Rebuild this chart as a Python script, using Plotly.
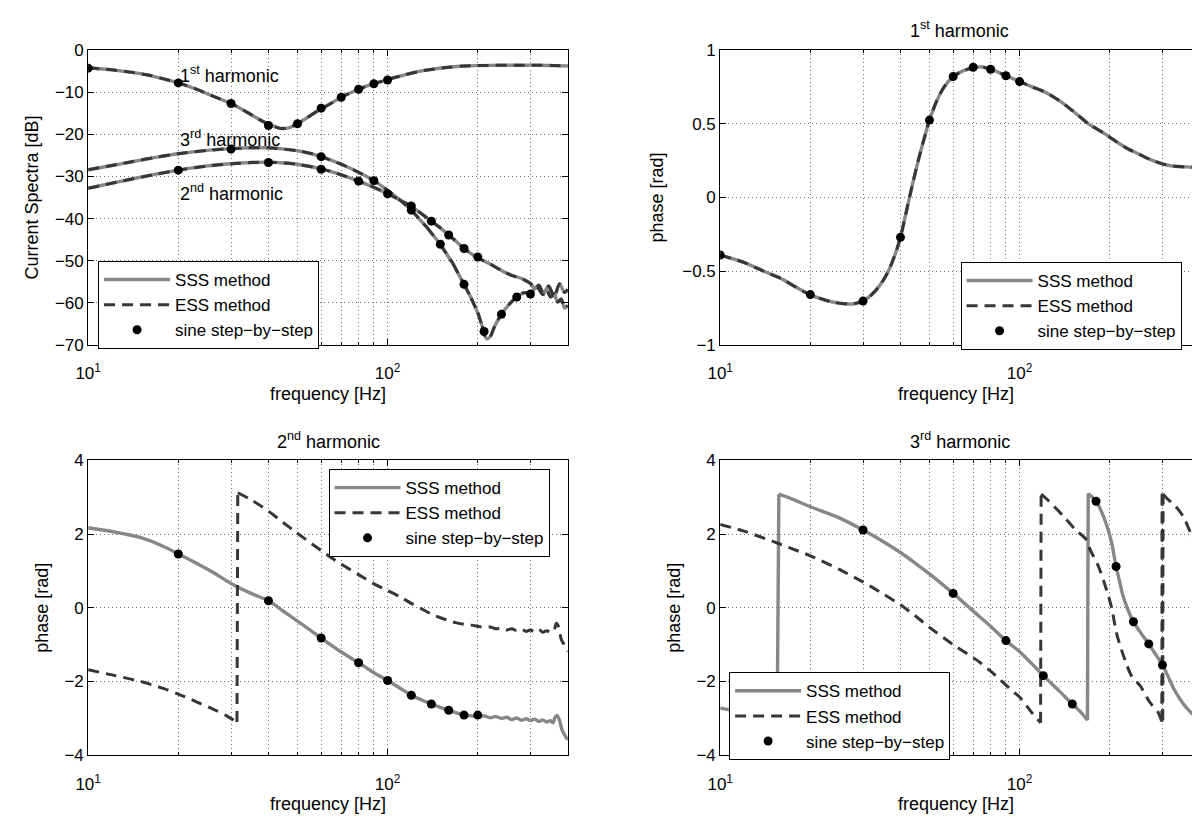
import plotly.graph_objects as go
import math

# ---------------- data ----------------
# sine step-by-step excitation frequencies for each harmonic
dots_f1 = [10, 20, 30, 40, 50, 60, 70, 80, 90, 100]
dots_f2 = [20, 40, 60, 80, 100, 120, 140, 160, 180, 200]
dots_f3 = [30, 60, 90, 120, 150, 180, 210, 240, 270, 300]

# magnitude [dB]
mag_f1 = [10, 12, 14, 16, 18, 20, 23, 26, 30, 34, 38, 41, 44, 47, 50, 54, 58, 62, 66, 70, 75, 80, 90,
          100, 110, 125, 140, 160, 180, 200, 240, 280, 320, 360, 400]
mag_1 = [-4.2, -4.7, -5.3, -6.0, -6.9, -7.8, -9.3, -10.9, -12.7, -14.8, -16.8, -17.9, -18.6, -18.4, -17.5,
         -16.0, -14.6, -13.4, -12.3, -11.2, -10.2, -9.3, -8.0, -7.0, -6.2, -5.2, -4.6, -4.1, -3.8, -3.7,
         -3.6, -3.6, -3.6, -3.7, -3.8]
mag_f2 = [10, 12, 14, 17, 20, 25, 30, 35, 40, 45, 50, 60, 70, 80, 90, 100, 110, 120, 130, 140, 150, 160,
          170, 180, 190, 200, 220, 240, 260, 280, 300, 310, 320, 330, 340, 350, 360, 370, 380, 390, 400]
mag_2 = [-32.8, -31.6, -30.6, -29.4, -28.5, -27.5, -27.0, -26.7, -26.6, -26.8, -27.1, -28.2, -29.6, -31.1,
         -32.6, -34.1, -35.6, -37.1, -38.9, -40.6, -42.2, -43.9, -45.5, -47.1, -48.3, -49.3, -50.8, -52.3,
         -53.5, -54.2, -55.4, -56.6, -55.8, -57.5, -56.9, -58.6, -57.9, -59.8, -59.1, -61.2, -60.6]
mag_f3 = [10, 12, 14, 17, 20, 25, 30, 35, 40, 45, 50, 55, 60, 70, 80, 90, 100, 110, 120, 135, 150, 165,
          180, 190, 200, 207, 214, 220, 228, 240, 255, 270, 285, 300, 315, 330, 345, 360, 375, 390, 400]
mag_3 = [-28.4, -27.4, -26.5, -25.4, -24.6, -23.8, -23.4, -23.2, -23.2, -23.5, -23.9, -24.5, -25.3, -27.1,
         -29.0, -31.0, -33.3, -35.6, -38.0, -42.0, -46.1, -50.6, -55.6, -58.8, -62.3, -65.5, -68.5, -68.0,
         -65.5, -62.7, -60.3, -58.6, -57.6, -57.6, -56.2, -58.0, -56.0, -58.5, -55.5, -57.5, -56.8]
dots_mag1 = [-4.3, -7.8, -12.7, -17.9, -17.5, -13.8, -11.2, -9.3, -8.0, -7.1]
dots_mag2 = [-28.5, -26.7, -28.3, -31.1, -34.1, -37.0, -40.6, -43.9, -47.1, -49.1]
dots_mag3 = [-23.5, -25.3, -31.0, -38.0, -46.1, -55.6, -66.8, -62.7, -58.6, -57.9]

# phase of 1st harmonic [rad] (SSS and ESS coincide)
ph1_f = [10, 12, 14, 16, 18, 20, 22, 24, 26, 28, 30, 32, 34, 36, 38, 40, 42, 44, 46, 48, 50, 53, 56, 60,
         65, 70, 75, 80, 90, 100, 110, 120, 135, 150, 170, 190, 210, 230, 250, 275, 300, 320, 340, 377, 400]
ph1 = [-0.39, -0.44, -0.50, -0.55, -0.61, -0.66, -0.69, -0.71, -0.72, -0.72, -0.70, -0.66, -0.60, -0.52,
       -0.41, -0.27, -0.08, 0.10, 0.26, 0.40, 0.525, 0.66, 0.75, 0.82, 0.86, 0.88, 0.885, 0.87, 0.826, 0.786,
       0.75, 0.72, 0.66, 0.59, 0.50, 0.44, 0.38, 0.33, 0.295, 0.255, 0.228, 0.215, 0.21, 0.205, 0.20]
dots_ph1 = [-0.39, -0.658, -0.702, -0.27, 0.525, 0.82, 0.883, 0.87, 0.826, 0.786]

# phase of 2nd harmonic [rad]
ph2_sss_f = [10, 12, 15, 18, 20, 23, 26, 30, 35, 40, 45, 50, 55, 60, 70, 80, 90, 100, 110, 120, 130, 140,
             150, 160, 170, 180, 190, 200, 210, 220, 230, 240, 250, 260, 270, 280, 290, 300, 310, 320, 330,
             340, 350, 357, 362, 368, 375, 382, 390, 400]
ph2_sss = [2.17, 2.07, 1.90, 1.65, 1.46, 1.21, 0.97, 0.66, 0.39, 0.19, -0.10, -0.36, -0.60, -0.82, -1.20,
           -1.49, -1.76, -1.97, -2.18, -2.37, -2.50, -2.61, -2.70, -2.78, -2.85, -2.91, -2.93, -2.95, -2.93,
           -2.98, -2.95, -3.00, -2.97, -3.03, -2.99, -3.05, -3.01, -3.06, -3.02, -3.08, -3.04, -3.10, -3.06,
           -3.12, -2.98, -2.92, -3.05, -3.30, -3.45, -3.58]
ph2_ess_f = [10, 12, 15, 18, 20, 23, 26, 29, 31.4, 31.6, 35, 40, 45, 50, 60, 70, 80, 90, 100, 110, 120,
             130, 140, 150, 160, 170, 180, 190, 200, 210, 220, 230, 240, 250, 260, 270, 280, 290, 300, 310,
             320, 330, 340, 350, 360, 366, 372, 380, 390, 400]
ph2_ess = [-1.68, -1.82, -2.00, -2.20, -2.34, -2.55, -2.74, -2.93, -3.10, 3.12, 2.93, 2.62, 2.30, 2.02,
           1.55, 1.18, 0.90, 0.65, 0.47, 0.30, 0.12, -0.03, -0.17, -0.27, -0.35, -0.41, -0.45, -0.47, -0.50,
           -0.53, -0.52, -0.57, -0.55, -0.60, -0.57, -0.62, -0.58, -0.64, -0.60, -0.65, -0.59, -0.66, -0.62,
           -0.67, -0.60, -0.42, -0.50, -0.85, -1.02, -1.18]
dots_ph2 = [1.46, 0.19, -0.82, -1.49, -1.97, -2.37, -2.61, -2.78, -2.91, -2.91]

# phase of 3rd harmonic [rad]
ph3_sss_f = [10, 12, 14, 15.5, 15.7, 17, 20, 25, 30, 35, 40, 45, 50, 60, 70, 80, 90, 100, 110, 120, 135,
             150, 160, 168.5, 169.5, 175, 180, 185, 191, 197, 203, 210, 216, 221, 230, 240, 255, 270, 285,
             300, 315, 328, 345, 360, 377, 400]
ph3_sss = [-2.72, -2.85, -2.98, -3.08, 3.08, 2.98, 2.74, 2.44, 2.11, 1.80, 1.50, 1.20, 0.92, 0.39, -0.09,
           -0.50, -0.89, -1.19, -1.52, -1.84, -2.24, -2.61, -2.83, -3.05, 3.10, 3.00, 2.89, 2.72, 2.46, 2.15,
           1.76, 1.12, 0.70, 0.35, -0.05, -0.38, -0.70, -0.98, -1.27, -1.55, -1.90, -2.21, -2.50, -2.70,
           -2.87, -3.00]
ph3_ess_f = [10, 12, 15, 17, 20, 25, 30, 35, 40, 45, 50, 60, 72, 80, 96, 100, 110, 117.5, 118, 125, 141,
             154, 167, 172, 183, 193, 203, 211, 225, 237, 253, 272, 290, 298.5, 299.5, 300.5, 301.5, 312,
             326, 340, 353, 365, 377, 400]
ph3_ess = [2.26, 2.08, 1.80, 1.63, 1.41, 1.04, 0.70, 0.38, 0.08, -0.23, -0.53, -1.00, -1.42, -1.72, -2.30,
           -2.42, -2.85, -3.12, 3.08, 2.90, 2.46, 2.11, 1.85, 1.58, 1.14, 0.61, 0.0, -0.71, -1.42, -1.86,
           -2.12, -2.56, -2.83, -3.09, 3.10, -3.05, 3.08, 2.95, 2.82, 2.65, 2.46, 2.20, 1.94, 1.60]
dots_ph3 = [2.11, 0.39, -0.89, -1.84, -2.61, 2.89, 1.12, -0.38, -0.98, -1.55]

x_major = [10, 100]
x_major_text = ["10<sup>1</sup>", "10<sup>2</sup>"]
x_minor = [20, 30, 40, 50, 60, 70, 80, 90, 200, 300]

# ---------------- styling ----------------
W, H = 1192, 820
FONT = "Liberation Sans, Arial, Helvetica, sans-serif"
FS_TICK = 17
FS = 18
FS_LEG = 17
SSS_COLOR = "#878787"
ESS_COLOR = "#363636"
GRID = "rgba(0,0,0,0.55)"
GRID_DASH = "1px,3px"


def px_x(p):
    return p / W


def px_y(p):
    return 1 - p / H


dom_left = [px_x(76), px_x(561)]
dom_right = [px_x(715), 1.0]
dom_top = [px_y(344), px_y(42)]
dom_bot = [px_y(764), px_y(462)]
rng_left = [1, math.log10(400)]
rng_right = [1, 1 + (1192 - 715) / 302.7]


def split_wraps(f, v):
    """Break a phase curve at its +-pi wraps so each smooth piece is drawn on its own,
    with the wrap itself drawn as a straight connector."""
    xs, ys = [], []
    for i in range(len(f)):
        if i > 0 and abs(v[i] - v[i - 1]) > 3:
            xs += [None, f[i - 1], f[i], None]
            ys += [None, v[i - 1], v[i], None]
        xs.append(f[i])
        ys.append(v[i])
    return xs, ys


fig = go.Figure()


def sss(f, v, ax, leg, show):
    x, y = split_wraps(f, v)
    fig.add_trace(go.Scatter(x=x, y=y, mode="lines", name="SSS method", connectgaps=False,
                             line=dict(color=SSS_COLOR, width=3.4, shape="spline", smoothing=0.8),
                             xaxis=ax[0], yaxis=ax[1], legend=leg, showlegend=show,
                             legendgroup=leg + "sss"))


def ess(f, v, ax, leg, show):
    x, y = split_wraps(f, v)
    fig.add_trace(go.Scatter(x=x, y=y, mode="lines", name="ESS method", connectgaps=False,
                             line=dict(color=ESS_COLOR, width=3, dash="11px,7px", shape="spline",
                                       smoothing=0.8),
                             xaxis=ax[0], yaxis=ax[1], legend=leg, showlegend=show,
                             legendgroup=leg + "ess"))


def dots(f, v, ax, leg, show):
    fig.add_trace(go.Scatter(x=f, y=v, mode="markers", name="sine step\u2212by\u2212step",
                             marker=dict(color="black", size=9),
                             xaxis=ax[0], yaxis=ax[1], legend=leg, showlegend=show,
                             legendgroup=leg + "dots"))


A1, A2, A3, A4 = ("x", "y"), ("x2", "y2"), ("x3", "y3"), ("x4", "y4")

# top-left: magnitudes
sss(mag_f1, mag_1, A1, "legend", True)
sss(mag_f3, mag_3, A1, "legend", False)
sss(mag_f2, mag_2, A1, "legend", False)
ess(mag_f1, mag_1, A1, "legend", True)
ess(mag_f3, mag_3, A1, "legend", False)
ess(mag_f2, mag_2, A1, "legend", False)
dots(dots_f1, dots_mag1, A1, "legend", True)
dots(dots_f3, dots_mag3, A1, "legend", False)
dots(dots_f2, dots_mag2, A1, "legend", False)

# top-right: phase 1st harmonic
sss(ph1_f, ph1, A2, "legend2", True)
ess(ph1_f, ph1, A2, "legend2", True)
dots(dots_f1, dots_ph1, A2, "legend2", True)

# bottom-left: phase 2nd harmonic
sss(ph2_sss_f, ph2_sss, A3, "legend3", True)
ess(ph2_ess_f, ph2_ess, A3, "legend3", True)
dots(dots_f2, dots_ph2, A3, "legend3", True)

# bottom-right: phase 3rd harmonic
sss(ph3_sss_f, ph3_sss, A4, "legend4", True)
ess(ph3_ess_f, ph3_ess, A4, "legend4", True)
dots(dots_f3, dots_ph3, A4, "legend4", True)


def xaxis(domain, rng, anchor):
    return dict(type="log", domain=domain, range=rng, anchor=anchor,
                tickvals=x_major, ticktext=x_major_text, ticks="inside", ticklen=6,
                tickcolor="black", tickwidth=1, showline=True, linecolor="black", linewidth=1,
                mirror="ticks", showgrid=True, gridcolor=GRID, griddash=GRID_DASH, gridwidth=1,
                zeroline=False, tickfont=dict(size=FS_TICK, color="black"), ticklabelstandoff=13,
                minor=dict(tickvals=x_minor, ticks="inside", ticklen=3, tickcolor="black",
                           showgrid=True, gridcolor=GRID, griddash=GRID_DASH, gridwidth=1),
                title=dict(text="frequency [Hz]", font=dict(size=FS, color="black"), standoff=4))


def yaxis(domain, rng, dtick, anchor, title, mirror, standoff):
    return dict(domain=domain, range=rng, dtick=dtick, anchor=anchor, ticks="inside", ticklen=6,
                tickcolor="black", showline=True, linecolor="black", linewidth=1, mirror=mirror,
                showgrid=True, gridcolor=GRID, griddash=GRID_DASH, gridwidth=1, zeroline=False,
                tickfont=dict(size=FS_TICK, color="black"),
                title=dict(text=title, font=dict(size=FS, color="black"), standoff=standoff))


def legend(x_px, y_px):
    return dict(x=px_x(x_px), y=px_y(y_px), xanchor="left", yanchor="top", xref="paper", yref="paper",
                bgcolor="white", bordercolor="black", borderwidth=1, tracegroupgap=0,
                font=dict(size=FS_LEG, color="black", family=FONT), itemwidth=66,
                traceorder="normal")


fig.update_layout(
    width=W, height=H, margin=dict(l=0, r=0, t=0, b=0),
    paper_bgcolor="white", plot_bgcolor="white",
    font=dict(family=FONT, size=FS, color="black"),
    xaxis=xaxis(dom_left, rng_left, "y"),
    yaxis=yaxis(dom_top, [-70, 0], 10, "x", "Current Spectra [dB]", "ticks", 11),
    xaxis2=xaxis(dom_right, rng_right, "y2"),
    yaxis2=yaxis(dom_top, [-1, 1], 0.5, "x2", "phase [rad]", False, 13),
    xaxis3=xaxis(dom_left, rng_left, "y3"),
    yaxis3=yaxis(dom_bot, [-4, 4], 2, "x3", "phase [rad]", "ticks", 11),
    xaxis4=xaxis(dom_right, rng_right, "y4"),
    yaxis4=yaxis(dom_bot, [-4, 4], 2, "x4", "phase [rad]", False, 11),
    legend=legend(86, 258),
    legend2=legend(958, 259),
    legend3=legend(319, 471),
    legend4=legend(724, 679),
    annotations=[
        dict(text="1<sup>st</sup> harmonic", x=px_x(957), y=px_y(21), xref="paper", yref="paper",
             showarrow=False, xanchor="center", yanchor="middle", font=dict(size=FS)),
        dict(text="2<sup>nd</sup> harmonic", x=px_x(318.5), y=px_y(442), xref="paper", yref="paper",
             showarrow=False, xanchor="center", yanchor="middle", font=dict(size=FS)),
        dict(text="3<sup>rd</sup> harmonic", x=px_x(957), y=px_y(442), xref="paper", yref="paper",
             showarrow=False, xanchor="center", yanchor="middle", font=dict(size=FS)),
        dict(text="1<sup>st</sup> harmonic", x=math.log10(20), y=-5.8, xref="x", yref="y",
             showarrow=False, xanchor="left", yanchor="middle", font=dict(size=FS)),
        dict(text="3<sup>rd</sup> harmonic", x=math.log10(20), y=-20.9, xref="x", yref="y",
             showarrow=False, xanchor="left", yanchor="middle", font=dict(size=FS)),
        dict(text="2<sup>nd</sup> harmonic", x=math.log10(20), y=-33.9, xref="x", yref="y",
             showarrow=False, xanchor="left", yanchor="middle", font=dict(size=FS)),
    ],
)

fig.write_html("out.html", config={"displayModeBar": False},
               post_script="document.body.style.margin='0';")
